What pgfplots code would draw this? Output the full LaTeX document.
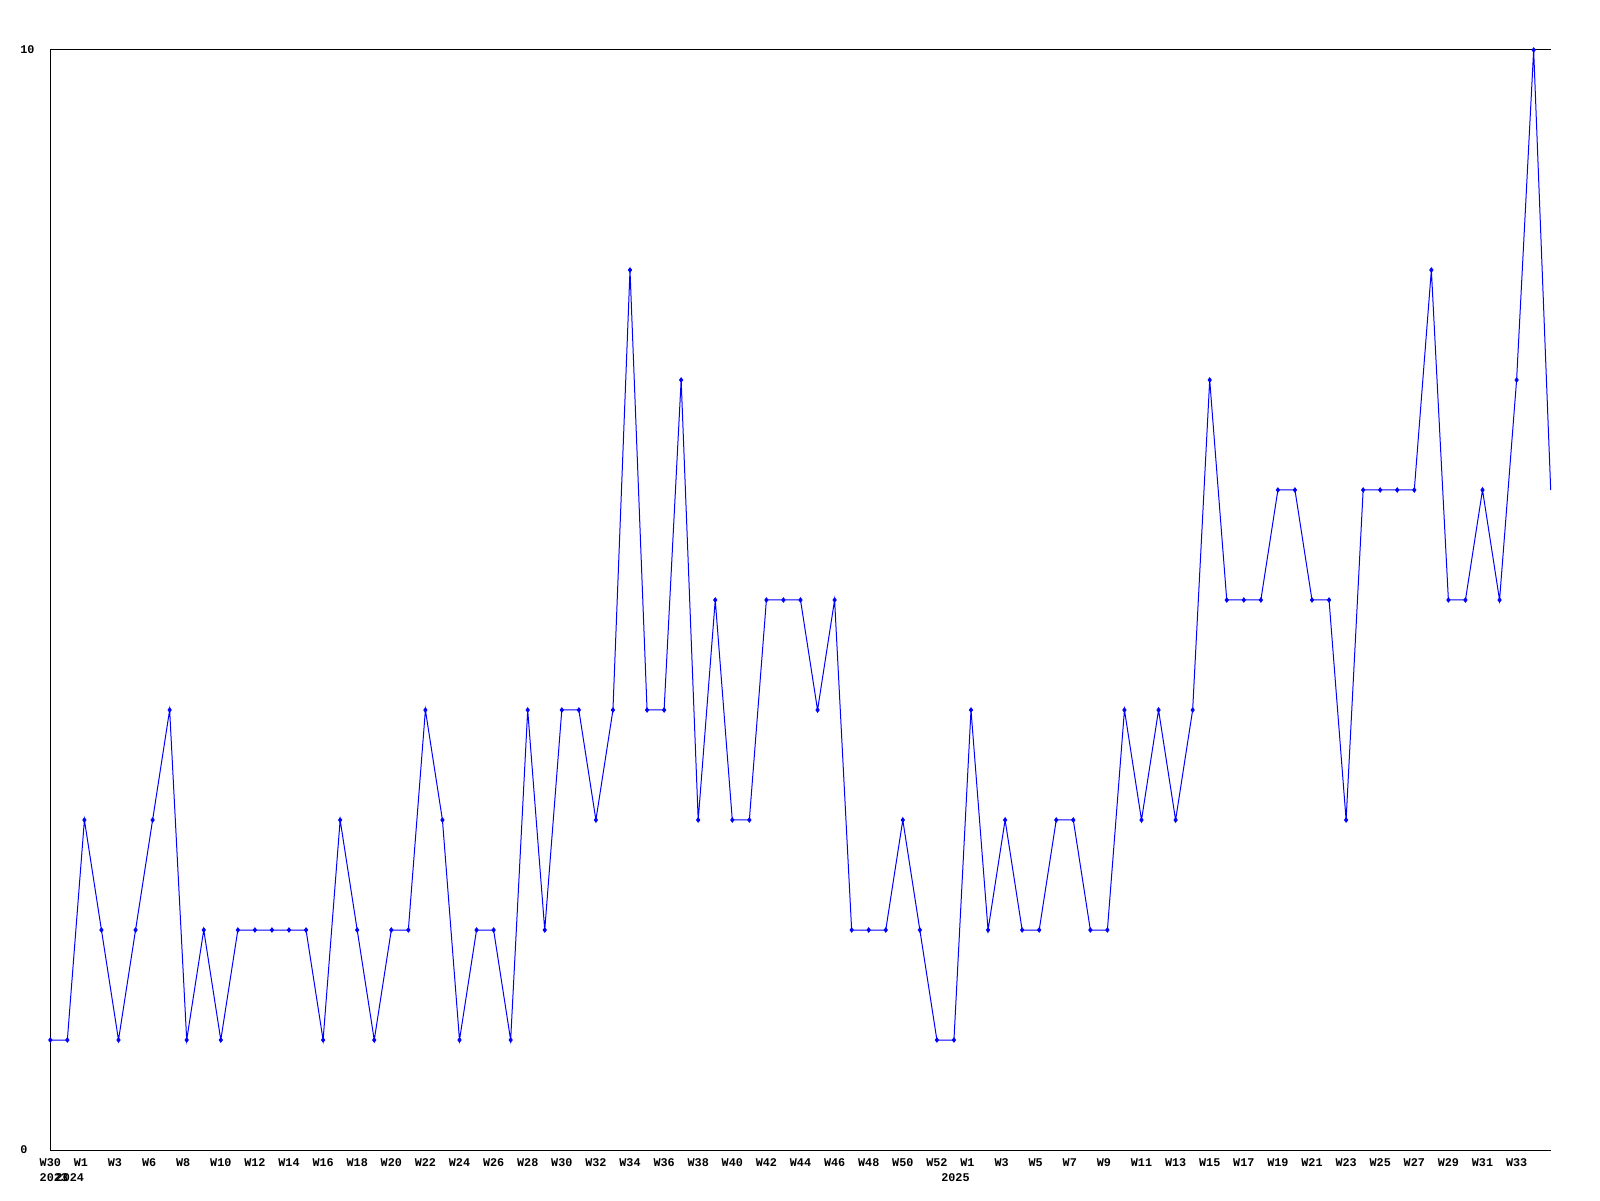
\documentclass[border=0pt]{standalone}
\usepackage{pgfplots}
\usepackage{pgfplotstable}
\pgfplotsset{compat=1.18}
\usepackage{fontspec}
\setmainfont{Liberation Mono}
\pgfplotstableread{
x y
0 1
1 1
2 3
3 2
4 1
5 2
6 3
7 4
8 1
9 2
10 1
11 2
12 2
13 2
14 2
15 2
16 1
17 3
18 2
19 1
20 2
21 2
22 4
23 3
24 1
25 2
26 2
27 1
28 4
29 2
30 4
31 4
32 3
33 4
34 8
35 4
36 4
37 7
38 3
39 5
40 3
41 3
42 5
43 5
44 5
45 4
46 5
47 2
48 2
49 2
50 3
51 2
52 1
53 1
54 4
55 2
56 3
57 2
58 2
59 3
60 3
61 2
62 2
63 4
64 3
65 4
66 3
67 4
68 7
69 5
70 5
71 5
72 6
73 6
74 5
75 5
76 3
77 6
78 6
79 6
80 6
81 8
82 5
83 5
84 6
85 5
86 7
87 10
88 6
}\datatable
\begin{document}
\begin{tikzpicture}
\useasboundingbox[fill=white] (0,0) rectangle (800pt,600pt);
\begin{axis}[
  at={(25.15pt,25pt)}, anchor=south west,
  scale only axis, width=750.2pt, height=550pt,
  xmin=0, xmax=88, ymin=0, ymax=10,
  enlargelimits=false,
  clip=false,
  axis x line=box, axis y line=left,
  axis line style={-, black, line width=0.5pt},
  major tick length=0pt,
  /pgf/number format/assume math mode=true,
  xtick={0,2,...,86},
  xticklabels={W30,W1,W3,W6,W8,W10,W12,W14,W16,W18,W20,W22,W24,W26,W28,W30,W32,W34,W36,W38,W40,W42,W44,W46,W48,W50,W52,W1,W3,W5,W7,W9,W11,W13,W15,W17,W19,W21,W23,W25,W27,W29,W31,W33},
  ytick={0,10}, yticklabels={0,10},
  xticklabel style={anchor=north west, inner sep=0pt, xshift=-5.5pt, yshift=-4.2pt, font=\fontsize{5.9}{6}\selectfont\bfseries},
  yticklabel style={anchor=west, inner sep=0pt, xshift=-15.15pt, font=\fontsize{5.9}{6}\selectfont\bfseries},
]
\addplot[color={rgb,255:red,0;green,0;blue,255}, line width=0.5pt, mark=none] table[x=x,y=y] {\datatable};
\addplot[color={rgb,255:red,0;green,0;blue,255}, only marks, mark=diamond*, mark size=1.1pt, skip coords between index={88}{89}] table[x=x,y=y] {\datatable};
\node[anchor=north west, inner sep=0pt, xshift=-5.5pt, yshift=-11.8pt, font=\fontsize{5.9}{6}\selectfont\bfseries] at (axis cs:0,0) {2023};
\node[anchor=north east, inner sep=0pt, yshift=-11.8pt, font=\fontsize{5.9}{6}\selectfont\bfseries] at (axis cs:2,0) {2024};
\node[anchor=north east, inner sep=0pt, xshift=-0.5pt, yshift=-11.8pt, font=\fontsize{5.9}{6}\selectfont\bfseries] at (axis cs:54,0) {2025};
\end{axis}
\end{tikzpicture}
\end{document}
